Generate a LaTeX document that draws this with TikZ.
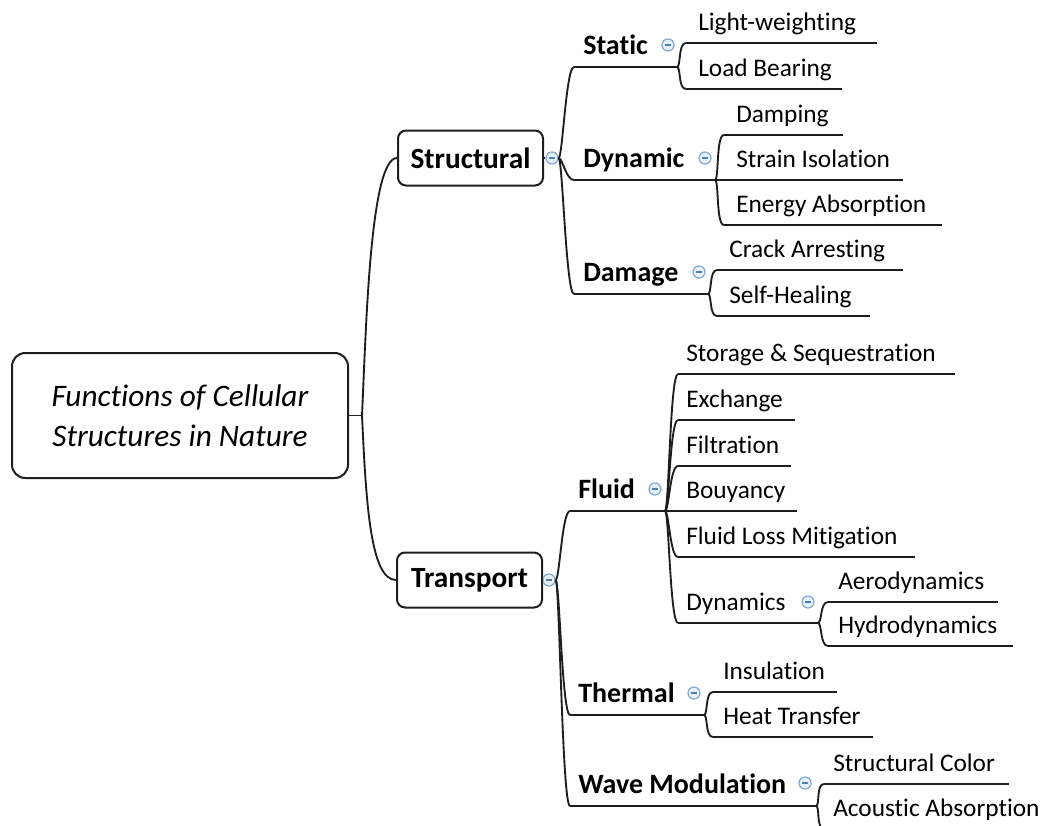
\documentclass[tikz,border=0pt]{standalone}
\usepackage{fontspec}
\setmainfont{Carlito}[Ligatures={TeX,NoCommon}]
\definecolor{linecol}{HTML}{1E1E1E}
\definecolor{minusblue}{HTML}{7FA8D4}
\definecolor{minusfill}{HTML}{E6F0FA}
\definecolor{minusdark}{HTML}{4F7FB0}
\newcommand{\leaffont}{\fontsize{19}{23}\selectfont}
\newcommand{\topicfont}{\fontsize{21}{25}\selectfont\bfseries}
% name, start x, end x, underline y, text x, text
\newcommand{\mmitem}[6]{%
  \coordinate (#1-s) at (#2,#4);
  \coordinate (#1-e) at (#3,#4);
  \node[lbl] (#1) at (#5,#4-12.5) {#6};
  \draw[uline] (#1-s) -- (#1-e);
}
\begin{document}
\begin{tikzpicture}[x=0.75pt,y=-0.75pt,
  lbl/.style={anchor=base west, inner sep=0pt, font=\leaffont, text=black},
  uline/.style={draw=linecol, line width=1.4pt},
  conn/.style={draw=linecol, line width=1.4pt,
    to path={.. controls +(4,0) and +(-8,0) .. (\tikztotarget)}},
  mainbox/.style={draw=linecol, line width=1.5pt, rounded corners=6pt,
    minimum width=108.75pt, minimum height=41.25pt, inner sep=0pt,
    font=\fontsize{22}{26}\selectfont\bfseries},
  rootbox/.style={draw=linecol, line width=1.5pt, rounded corners=10pt,
    minimum width=252pt, minimum height=93.75pt, inner sep=0pt, align=center,
    font=\fontsize{23.5}{30}\selectfont\itshape},
  minus/.style={circle, draw=minusblue, fill=minusfill, line width=0.9pt,
    minimum size=9pt, inner sep=0pt,
    path picture={\draw[minusdark, line width=1pt]
      ([xshift=-2.4pt]path picture bounding box.center) --
      ([xshift=2.4pt]path picture bounding box.center);}}
]
\useasboundingbox (0,0) rectangle (1048,825);

% root
\node[rootbox] (root) at (180,415.5) {Functions of Cellular\\Structures in Nature};
\coordinate (rj) at (362,415.5);
\draw[uline] (root.east) -- (rj);

% level 1
\node[mainbox] (struct) at (470.5,158) {Structural};
\node[mainbox] (trans) at (469.5,580) {Transport};
\draw[uline] (rj) .. controls (366,330) and (370,158) .. (struct.west);
\draw[uline] (rj) .. controls (366,500) and (370,580) .. (trans.west);

\node[minus] (struct-m) at (552,158) {};
\node[minus] (trans-m) at (549,580) {};
\draw[uline] (struct.east) -- (struct-m.west);
\draw[uline] (trans.east) -- (trans-m.west);

% Structural branch
\mmitem{static}{574}{677}{67}{583}{\topicfont Static}
\mmitem{dynamic}{574}{715}{180}{583}{\topicfont Dynamic}
\mmitem{damage}{574}{708}{294}{583}{\topicfont Damage}
\node[minus] (static-m) at (668,45) {};
\node[minus] (dynamic-m) at (705,158) {};
\node[minus] (damage-m) at (699,272) {};
\draw[conn] (struct-m.east) to (static-s);
\draw[conn] (struct-m.east) to (dynamic-s);
\draw[conn] (struct-m.east) to (damage-s);

\mmitem{lw}{686}{877}{43}{698}{Light-weighting}
\mmitem{lb}{686}{842}{89}{698}{Load Bearing}
\draw[conn] (static-e) to (lw-s);
\draw[conn] (static-e) to (lb-s);

\mmitem{damp}{724}{843}{135}{736}{Damping}
\mmitem{strain}{724}{903}{180}{736}{Strain Isolation}
\mmitem{energy}{724}{942}{225}{736}{Energy Absorption}
\draw[conn] (dynamic-e) to (damp-s);
\draw[conn] (dynamic-e) to (strain-s);
\draw[conn] (dynamic-e) to (energy-s);

\mmitem{crack}{717}{903}{270}{729}{Crack Arresting}
\mmitem{heal}{717}{870}{316}{729}{Self-Healing}
\draw[conn] (damage-e) to (crack-s);
\draw[conn] (damage-e) to (heal-s);

% Transport branch
\mmitem{fluid}{570}{665}{511}{578}{\topicfont Fluid}
\mmitem{thermal}{570}{704}{715}{578}{\topicfont Thermal}
\mmitem{wave}{570}{816}{806}{578}{\topicfont Wave Modulation}
\node[minus] (fluid-m) at (655,489) {};
\node[minus] (thermal-m) at (694,693) {};
\node[minus] (wave-m) at (805,783) {};
\draw[conn] (trans-m.east) to (fluid-s);
\draw[conn] (trans-m.east) to (thermal-s);
\draw[conn] (trans-m.east) to (wave-s);

\mmitem{store}{678}{955}{374}{686}{Storage \& Sequestration}
\mmitem{exch}{678}{795}{420}{686}{Exchange}
\mmitem{filt}{678}{791}{466}{686}{Filtration}
\mmitem{bouy}{678}{797}{511}{686}{Bouyancy}
\mmitem{loss}{678}{915}{557}{686}{Fluid Loss Mitigation}
\mmitem{dyns}{678}{818}{623}{686}{Dynamics}
\node[minus] (dyns-m) at (808,602) {};
\draw[conn] (fluid-e) to (store-s);
\draw[conn] (fluid-e) to (exch-s);
\draw[conn] (fluid-e) to (filt-s);
\draw[conn] (fluid-e) to (bouy-s);
\draw[conn] (fluid-e) to (loss-s);
\draw[conn] (fluid-e) to (dyns-s);

\mmitem{aero}{828}{998}{602}{838}{Aerodynamics}
\mmitem{hydro}{828}{1013}{646}{838}{Hydrodynamics}
\draw[conn] (dyns-e) to (aero-s);
\draw[conn] (dyns-e) to (hydro-s);

\mmitem{insul}{713}{837}{692}{723}{Insulation}
\mmitem{heat}{713}{873}{737}{723}{Heat Transfer}
\draw[conn] (thermal-e) to (insul-s);
\draw[conn] (thermal-e) to (heat-s);

\mmitem{color}{824}{1009}{784}{833}{Structural Color}
\mmitem{acou}{824}{1048}{829}{833}{Acoustic Absorption}
\draw[conn] (wave-e) to (color-s);
\draw[conn] (wave-e) to (acou-s);
\end{tikzpicture}
\end{document}
